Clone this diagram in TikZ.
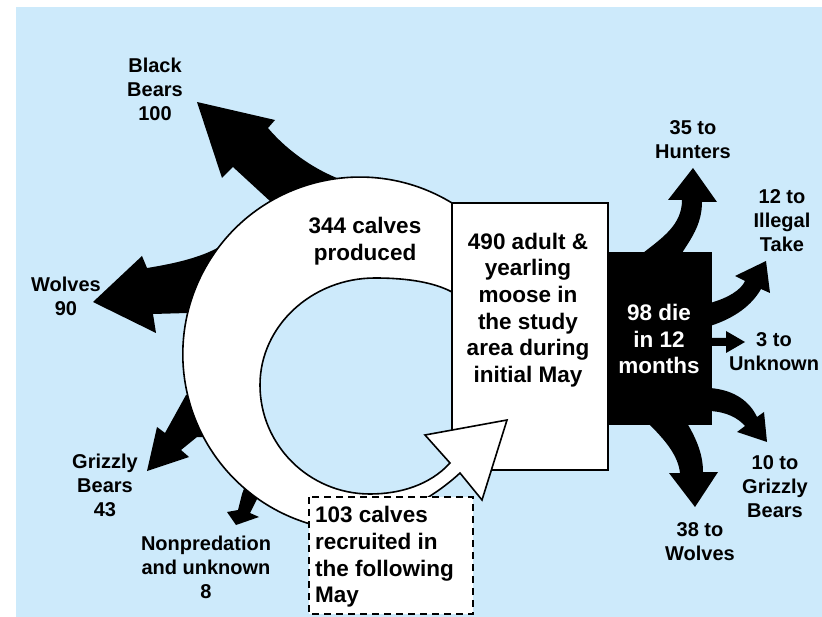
\documentclass[tikz,border=0pt]{standalone}
\usepackage{fontspec}
\setmainfont{Liberation Sans}
\definecolor{skyback}{RGB}{205,234,251}

\begin{document}
\begin{tikzpicture}[
  x=1pt, y=-1pt,
  lbl/.style={font=\fontsize{20}{24}\selectfont\bfseries, align=center, inner sep=0pt},
  boxtxt/.style={font=\fontsize{22.5}{26.7}\selectfont\bfseries, align=center, inner sep=0pt},
  flowfill/.style={fill=black},
  whitepart/.style={draw=black, fill=white, line width=1.6pt, line join=miter},
  recruitbox/.style={draw=black, fill=white, line width=1.4pt, dash pattern=on 7pt off 5pt}
]
\useasboundingbox (0,0) rectangle (822,617);
\fill[white] (0,0) rectangle (822,617);
\fill[skyback] (16,7) rectangle (822,617);

% calf losses (left)
\fill[flowfill] (271,202) -- (233,167) -- (222,178) -- (197,102) -- (275,120) -- (268,128)
  .. controls (284,147) and (310,168) .. (342,180) -- (342,200) -- (285,218) -- cycle;
\fill[flowfill] (219,247) .. controls (200,258) and (172,264) .. (147,268) -- (142,256) -- (93,302)
  -- (156,333) -- (153,314) -- (188,313) -- (210,313) -- (230,250) -- cycle;
\fill[flowfill] (186,395) -- (165,433) -- (157,427) -- (147,471) -- (189,457) -- (181,450)
  -- (197,437) -- (210,437) -- (205,395) -- cycle;
\fill[flowfill] (242,494) -- (238,510) -- (227,512) -- (236,525) -- (259,517) -- (250,513)
  -- (256,501) -- (262,490) -- (245,486) -- cycle;

% adult herd
\draw[whitepart] (452,203) rectangle (608,470);

% adult losses (right)
\fill[flowfill] (608,252) rectangle (712,425);
\fill[flowfill] (643,253) .. controls (662,238) and (682,225) .. (682,200) -- (668,200) -- (693,168)
  -- (717,202) -- (702,202) .. controls (702,225) and (690,240) .. (682,253) -- cycle;
\fill[flowfill] (710,303) .. controls (728,298) and (741,290) .. (745,281) -- (735,276) -- (766,261)
  -- (770,293) -- (761,289) .. controls (752,305) and (735,318) .. (710,326) -- cycle;
\fill[flowfill] (710,338) -- (726,338) -- (726,331) -- (745,342) -- (726,353) -- (726,346) -- (710,346) -- cycle;
\fill[flowfill] (710,388) .. controls (735,390) and (750,402) .. (757,417) -- (764,412) -- (767,442)
  -- (737,432) -- (745,426) .. controls (738,418) and (727,412) .. (710,411) -- cycle;
\fill[flowfill] (648,423) .. controls (665,440) and (678,455) .. (680,473) -- (669,473) -- (695,507)
  -- (718,472) -- (703,472) .. controls (703,455) and (697,440) .. (687,423) -- cycle;

% calf cycle
\draw[whitepart] (452,203) arc[start angle=58.6, end angle=253.6, radius=177pt]
  .. controls (360,535) and (420,510) .. (460,473) -- (482,500) -- (507,420) -- (425,435) -- (450,463)
  .. controls (430,485) and (400,494) .. (370,494)
  .. controls (309,494) and (260,445) .. (260,385)
  .. controls (260,326) and (312,278) .. (375,278)
  .. controls (410,278) and (435,283) .. (452,292) -- cycle;

\draw[recruitbox] (309,497) rectangle (473,614);

% labels
\node[lbl] (bbear) at (155,89) {Black\\Bears\\100};
\node[lbl] (wolf) at (66,296) {Wolves\\90};
\node[lbl] (gbear) at (105,485) {Grizzly\\Bears\\43};
\node[lbl] (nonpred) at (206,567) {Nonpredation\\and unknown\\8};
\node[boxtxt] (calves) at (365,241) {344 calves\\produced};
\node[boxtxt] (herd) at (528,310) {490 adult \&\\yearling\\moose in\\the study\\area during\\initial May};
\node[boxtxt, text=white] (die) at (659,339) {98 die\\in 12\\months};
\node[boxtxt, anchor=west, align=left] (recruits) at (315,557) {103 calves\\recruited in\\the following\\May};
\node[lbl] (hunt) at (693,140) {35 to\\Hunters};
\node[lbl] (illegal) at (782,221) {12 to\\Illegal\\Take};
\node[lbl] (unknown) at (774,352) {3 to\\Unknown};
\node[lbl] (rgbear) at (775,487) {10 to\\Grizzly\\Bears};
\node[lbl] (rwolf) at (700,542) {38 to\\Wolves};
\end{tikzpicture}
\end{document}
